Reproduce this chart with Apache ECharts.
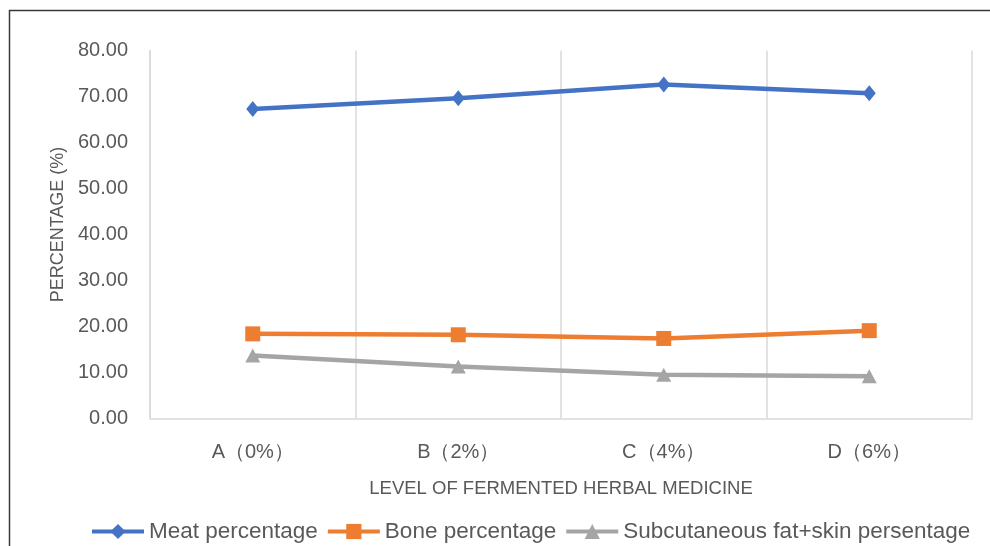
<!DOCTYPE html>
<html>
<head>
<meta charset="utf-8">
<script src="https://cdn.jsdelivr.net/npm/echarts@6/dist/echarts.min.js"></script>
<style>html,body{margin:0;padding:0;background:#fff;}#c{width:990px;height:546px;}</style>
</head>
<body>
<div id="c"></div>
<script>
const categories = ['A（0%）', 'B（2%）', 'C（4%）', 'D（6%）'];
const meat = [67.3, 69.6, 72.6, 70.7];
const bone = [18.4, 18.2, 17.4, 19.1];
const fat = [13.7, 11.3, 9.5, 9.2];
const seriesNames = ['Meat percentage', 'Bone percentage', 'Subcutaneous fat+skin persentage'];
const xTitle = 'LEVEL OF FERMENTED HERBAL MEDICINE';
const yTitle = 'PERCENTAGE (%)';

const font = 'Liberation Sans, Arial, sans-serif';
const txt = '#595959';
const chart = echarts.init(document.getElementById('c'), null, {renderer: 'canvas'});
chart.setOption({
  animation: false,
  backgroundColor: '#fff',
  graphic: [
    {type: 'line', shape: {x1: 9, y1: 10.5, x2: 990, y2: 10.5}, style: {stroke: '#3a3a3a', lineWidth: 1.5}},
    {type: 'line', shape: {x1: 9.5, y1: 10, x2: 9.5, y2: 546}, style: {stroke: '#3a3a3a', lineWidth: 1.5}}
  ],
  grid: {left: 150, right: 18, top: 50.5, bottom: 127.5, containLabel: false},
  legend: {
    left: 90, top: 520, padding: 0,
    itemWidth: 52, itemHeight: 19, itemGap: 8,
    lineStyle: {width: 4},
    textStyle: {color: txt, fontSize: 22.5, fontFamily: font},
    data: seriesNames
  },
  xAxis: {
    type: 'category',
    data: categories,
    boundaryGap: true,
    name: xTitle,
    nameLocation: 'middle',
    nameGap: 61,
    nameTextStyle: {color: txt, fontSize: 18.5, fontFamily: font},
    axisLine: {show: true, lineStyle: {color: '#d9d9d9', width: 1.5}},
    axisTick: {show: false},
    axisLabel: {color: txt, fontSize: 20, fontFamily: font, margin: 24},
    splitLine: {show: true, lineStyle: {color: '#d9d9d9', width: 1.5}}
  },
  yAxis: {
    type: 'value',
    min: 0, max: 80, interval: 10,
    name: yTitle,
    nameLocation: 'middle',
    nameGap: 82,
    nameTextStyle: {color: txt, fontSize: 18, fontFamily: font, padding: [0, 0, 0, 20]},
    axisLine: {show: true, lineStyle: {color: '#d9d9d9', width: 1.5}},
    axisTick: {show: false},
    splitLine: {show: false},
    axisLabel: {color: txt, fontSize: 20, fontFamily: font, margin: 22, formatter: v => v.toFixed(2)}
  },
  series: [
    {name: seriesNames[0], type: 'line', data: meat, symbol: 'diamond', symbolSize: [13, 16],
     itemStyle: {color: '#4472C4'}, lineStyle: {color: '#4472C4', width: 4.5}},
    {name: seriesNames[1], type: 'line', data: bone, symbol: 'rect', symbolSize: [15, 15],
     itemStyle: {color: '#ED7D31'}, lineStyle: {color: '#ED7D31', width: 4.5}},
    {name: seriesNames[2], type: 'line', data: fat, symbol: 'triangle', symbolSize: [15, 14],
     itemStyle: {color: '#A5A5A5'}, lineStyle: {color: '#A5A5A5', width: 4.5}}
  ]
});
</script>
</body>
</html>
